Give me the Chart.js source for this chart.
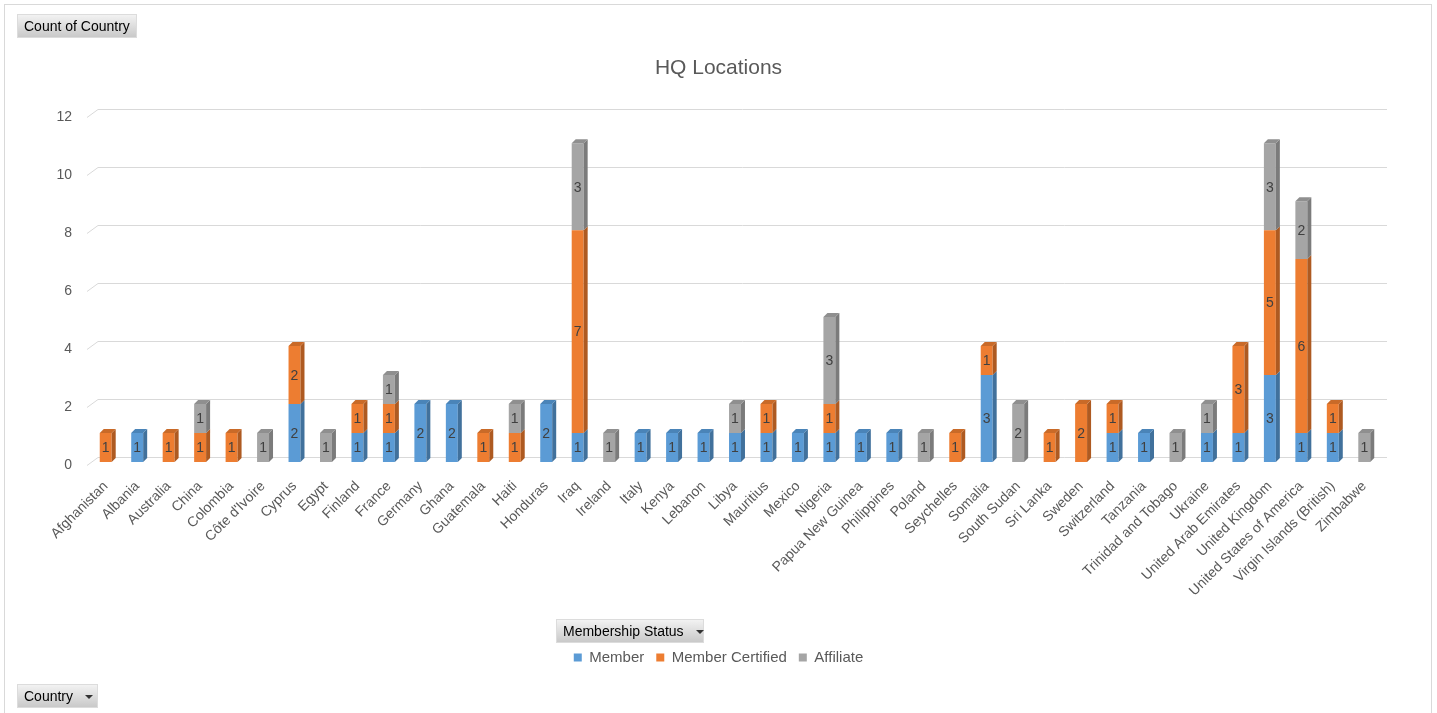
<!DOCTYPE html>
<html>
<head>
<meta charset="utf-8">
<script src="https://cdn.jsdelivr.net/npm/chart.js@4/dist/chart.umd.min.js"></script>
<style>
  html, body { margin: 0; padding: 0; background: #fff; }
  body { width: 1437px; height: 713px; position: relative; overflow: hidden; font-family: 'Liberation Sans', Arial, sans-serif; }
  #frame { position: absolute; left: 4px; top: 4px; width: 1428px; height: 720px; border: 1px solid #d9d9d9; box-sizing: border-box; }
  #wrap { position: absolute; left: 0; top: 0; width: 1437px; height: 713px; }
  .btn {
    position: absolute; height: 22px; line-height: 22px; font-size: 14px; color: #000;
    background: linear-gradient(#f2f2f2, #c9c9c9); box-shadow: 0 0 0 1px #dcdcdc;
    padding: 0 6px; box-sizing: border-box; white-space: nowrap;
  }
  .btn .arrow { display: inline-block; margin-left: 12px; width: 0; height: 0; border-left: 4px solid transparent; border-right: 4px solid transparent; border-top: 4px solid #333; vertical-align: middle; }
</style>
</head>
<body>
<div id="frame"></div>
<div id="wrap"><canvas id="chart"></canvas></div>
<div class="btn" style="left:18px; top:15px; width:118px;">Count of Country</div>
<div class="btn" style="left:557px; top:620px; width:146px;">Membership Status<span class="arrow"></span></div>
<div class="btn" style="left:18px; top:685px; width:79px;">Country<span class="arrow"></span></div>
<script>
const countries = [
  'Afghanistan', 'Albania', 'Australia', 'China', 'Colombia', "Côte d'Ivoire", 'Cyprus', 'Egypt',
  'Finland', 'France', 'Germany', 'Ghana', 'Guatemala', 'Haiti', 'Honduras', 'Iraq', 'Ireland',
  'Italy', 'Kenya', 'Lebanon', 'Libya', 'Mauritius', 'Mexico', 'Nigeria', 'Papua New Guinea',
  'Philippines', 'Poland', 'Seychelles', 'Somalia', 'South Sudan', 'Sri Lanka', 'Sweden',
  'Switzerland', 'Tanzania', 'Trinidad and Tobago', 'Ukraine', 'United Arab Emirates',
  'United Kingdom', 'United States of America', 'Virgin Islands (British)', 'Zimbabwe'
];
const member          = [0,1,0,0,0,0,2,0,1,1,2,2,0,0,2,1,0,1,1,1,1,1,1,1,1,1,0,0,3,0,0,0,1,1,0,1,1,3,1,1,0];
const memberCertified = [1,0,1,1,1,0,2,0,1,1,0,0,1,1,0,7,0,0,0,0,0,1,0,1,0,0,0,1,1,0,1,2,1,0,0,0,3,5,6,1,0];
const affiliate       = [0,0,0,1,0,1,0,1,0,1,0,0,0,1,0,3,1,0,0,0,1,0,0,3,0,0,1,0,0,2,0,0,0,0,1,1,0,3,2,0,1];
const yTicks = [0, 2, 4, 6, 8, 10, 12];

const DEPTH = 4;
const sideColors = ['#41719c', '#ae5a21', '#7b7b7b'];
const topColors = ['#4a84b8', '#c96a28', '#8f8f8f'];

// floor / wall gridlines with the slanted 3D lead-in
const gridPlugin = {
  id: 'grid3d',
  beforeDatasetsDraw(chart) {
    const { ctx, chartArea, scales } = chart;
    ctx.save();
    ctx.strokeStyle = '#d9d9d9';
    ctx.lineWidth = 1;
    yTicks.forEach(v => {
      const y = Math.round(scales.y.getPixelForValue(v)) + 0.5;
      ctx.beginPath();
      ctx.moveTo(chartArea.left - 3, y + 3);
      ctx.lineTo(chartArea.left + 8, y - 5);
      ctx.lineTo(chartArea.right + 7, y - 5);
      ctx.stroke();
    });
    ctx.restore();
  }
};

// side / top faces and the value labels
const barPlugin = {
  id: 'bars3d',
  afterDatasetsDraw(chart) {
    const { ctx } = chart;
    const n = chart.data.labels.length;
    ctx.save();
    for (let i = 0; i < n; i++) {
      let topDs = -1;
      chart.data.datasets.forEach((ds, d) => { if (ds.data[i] > 0) topDs = d; });
      chart.data.datasets.forEach((ds, d) => {
        if (!(ds.data[i] > 0)) return;
        const el = chart.getDatasetMeta(d).data[i];
        const half = el.width / 2;
        const r = el.x + half, l = el.x - half;
        ctx.fillStyle = sideColors[d];
        ctx.beginPath();
        ctx.moveTo(r, el.base);
        ctx.lineTo(r, el.y);
        ctx.lineTo(r + DEPTH, el.y - DEPTH);
        ctx.lineTo(r + DEPTH, el.base - DEPTH);
        ctx.closePath();
        ctx.fill();
        if (d === topDs) {
          ctx.fillStyle = topColors[d];
          ctx.beginPath();
          ctx.moveTo(l, el.y);
          ctx.lineTo(l + DEPTH, el.y - DEPTH);
          ctx.lineTo(r + DEPTH, el.y - DEPTH);
          ctx.lineTo(r, el.y);
          ctx.closePath();
          ctx.fill();
        }
      });
    }
    ctx.fillStyle = '#404040';
    ctx.font = '14px "Liberation Sans", Arial, sans-serif';
    ctx.textAlign = 'center';
    ctx.textBaseline = 'middle';
    chart.data.datasets.forEach((ds, d) => {
      chart.getDatasetMeta(d).data.forEach((el, i) => {
        const v = ds.data[i];
        if (!(v > 0)) return;
        ctx.fillText(String(v), el.x, (el.y + el.base) / 2 + 1);
      });
    });
    ctx.restore();
  }
};

new Chart(document.getElementById('chart'), {
  type: 'bar',
  data: {
    labels: countries,
    datasets: [
      { label: 'Member', data: member, backgroundColor: '#5b9bd5' },
      { label: 'Member Certified', data: memberCertified, backgroundColor: '#ed7d31' },
      { label: 'Affiliate', data: affiliate, backgroundColor: '#a5a5a5' }
    ]
  },
  options: {
    responsive: true,
    maintainAspectRatio: false,
    animation: false,
    layout: { padding: { left: 0, right: 0, top: 0, bottom: 38 } },
    datasets: { bar: { categoryPercentage: 1, barPercentage: 0.38 } },
    scales: {
      x: {
        stacked: true,
        grid: { display: false, drawTicks: false },
        border: { display: false },
        ticks: {
          color: '#595959', font: { size: 14, family: '"Liberation Sans", Arial, sans-serif' },
          minRotation: 45, maxRotation: 45, autoSkip: false, padding: 16
        },
        afterFit(scale) { scale.height = 176; }
      },
      y: {
        stacked: true,
        min: 0, max: 12,
        afterBuildTicks(scale) { scale.ticks = yTicks.map(v => ({ value: v })); },
        grid: { display: false, drawTicks: false },
        border: { display: false },
        ticks: {
          color: '#595959', font: { size: 14, family: '"Liberation Sans", Arial, sans-serif' },
          padding: 18, labelOffset: 3
        },
        afterFit(scale) { scale.width = 90; }
      },
      // empty right-hand axis: reserves the space right of the plot so title and legend stay centred
      yRight: {
        position: 'right',
        grid: { display: false, drawTicks: false },
        border: { display: false },
        ticks: { display: false },
        afterFit(scale) { scale.width = 57; }
      }
    },
    plugins: {
      title: {
        display: true, text: 'HQ Locations', color: '#595959',
        font: { size: 21, weight: 'normal', family: '"Liberation Sans", Arial, sans-serif' },
        padding: { top: 56, bottom: 33 }
      },
      legend: {
        position: 'bottom',
        labels: {
          color: '#595959', boxWidth: 8, boxHeight: 8, padding: 12,
          font: { size: 15, family: '"Liberation Sans", Arial, sans-serif' }
        }
      },
      tooltip: { enabled: false }
    }
  },
  plugins: [gridPlugin, barPlugin]
});
</script>
</body>
</html>
